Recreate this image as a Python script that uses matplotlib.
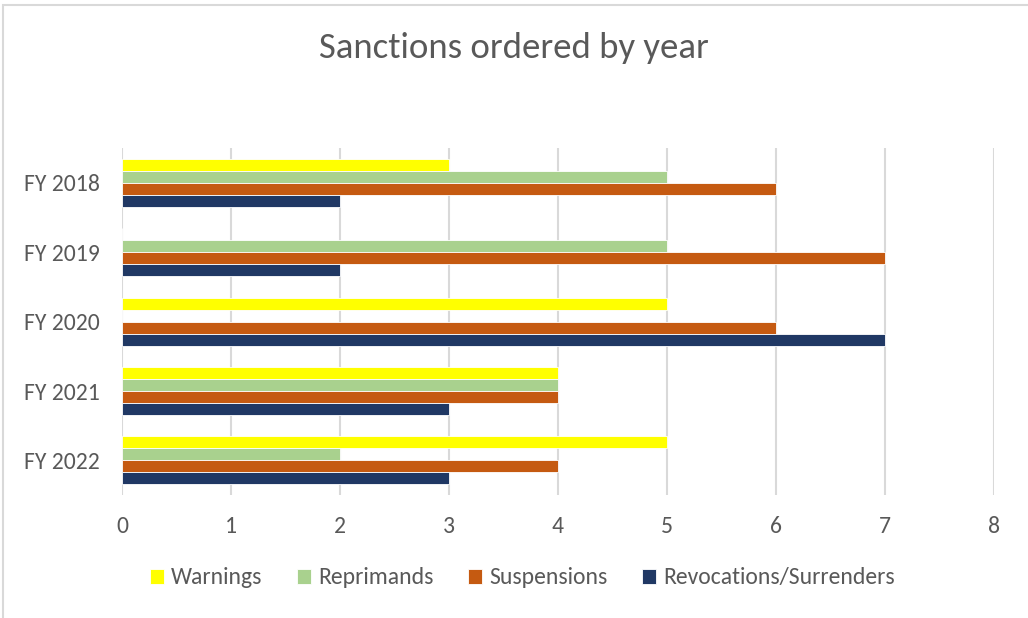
import matplotlib.pyplot as plt
from matplotlib.patches import Rectangle
import numpy as np

years = ['FY 2018', 'FY 2019', 'FY 2020', 'FY 2021', 'FY 2022']
warnings = [3, 0, 5, 4, 5]
reprimands = [5, 5, 0, 4, 2]
suspensions = [6, 7, 6, 4, 4]
revocations = [2, 2, 7, 3, 3]

series = [('Warnings', warnings, '#FFFF00'),
          ('Reprimands', reprimands, '#A9D18E'),
          ('Suspensions', suspensions, '#C55A11'),
          ('Revocations/Surrenders', revocations, '#203864')]

plt.rcParams['font.family'] = ['Calibri', 'Carlito', 'Lato', 'DejaVu Sans']

fig = plt.figure(figsize=(10.28, 6.18), dpi=100)
ax = fig.add_axes([0.1187, 0.199, 0.848, 0.561])

y = np.arange(len(years))
h = 0.172
for i, (name, vals, col) in enumerate(series):
    ax.barh(y + (i - 1.5) * h, vals, height=h, color=col, label=name,
            edgecolor='white', linewidth=0.6, zorder=3)

ax.set_xlim(0, 8)
ax.set_ylim(len(years) - 0.5, -0.5)
ax.set_yticks(y)
ax.set_yticklabels(years)
ax.set_xticks(range(0, 9))
ax.grid(axis='x', color='#D9D9D9', linewidth=1.5, zorder=0)
for s in ax.spines.values():
    s.set_visible(False)
ax.tick_params(axis='both', length=0, labelsize=17, labelcolor='#595959')
ax.tick_params(axis='x', pad=15)
ax.tick_params(axis='y', pad=16)

fig.text(0.5, 0.922, 'Sanctions ordered by year', ha='center', va='center',
         fontsize=26.5, color='#595959')

handles, labels = ax.get_legend_handles_labels()
fig.legend(handles, labels, loc='center', bbox_to_anchor=(0.508, 0.065), ncol=4,
           frameon=False, fontsize=17, labelcolor='#595959',
           handlelength=0.6, handleheight=0.6, handletextpad=0.3, columnspacing=1.45)

fig.patches.append(Rectangle((0.003, -0.01), 1.2, 1.005 - 0.003, transform=fig.transFigure,
                             fill=False, edgecolor='#D9D9D9', linewidth=1.5))

fig.savefig('out.png', dpi=100)
